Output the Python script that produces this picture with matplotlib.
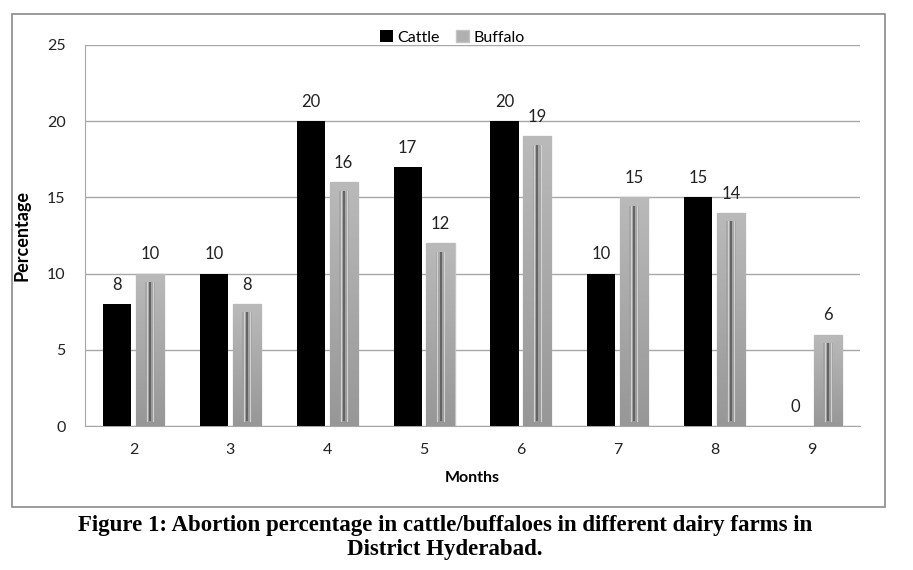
import matplotlib
matplotlib.use("Agg")
import matplotlib.pyplot as plt
from matplotlib.patches import Rectangle
from matplotlib.colors import LinearSegmentedColormap
import numpy as np

months = ["2", "3", "4", "5", "6", "7", "8", "9"]
cattle = [8, 10, 20, 17, 20, 10, 15, 0]
buffalo = [10, 8, 16, 12, 19, 15, 14, 6]

plt.rcParams['font.family'] = ['Lato', 'DejaVu Sans']

W, H = 913, 570
fig = plt.figure(figsize=(W / 100, H / 100), dpi=100)
ax = fig.add_axes([85 / W, 1 - 426 / H, 775 / W, 381 / H])

# outer frame
fig.patches.append(Rectangle((12 / W, 1 - 507 / H), 873 / W, 493 / H,
                             transform=fig.transFigure, fill=False,
                             edgecolor='#8a8a8a', linewidth=1.2))

x = np.arange(len(months))
bw = 0.29
off = 0.17
b1 = ax.bar(x - off, cattle, bw, color='black', label='Cattle', zorder=3)
b2 = ax.bar(x + off, buffalo, bw, color='#b0b0b0', edgecolor='#c4c4c4',
            linewidth=1.0, label='Buffalo', zorder=3)

cmap = LinearSegmentedColormap.from_list('g', ['#979797', '#bababa'])
grad = np.linspace(0, 1, 256).reshape(-1, 1)
for p in b2:
    h = p.get_height()
    if h <= 0:
        continue
    x0 = p.get_x()
    w = p.get_width()
    im = ax.imshow(grad, extent=(x0, x0 + w, 0, h), origin='lower',
                   cmap=cmap, aspect='auto', zorder=3.5)
    im.set_clip_path(p)
    cx = x0 + w / 2
    ax.add_patch(Rectangle((cx - 0.05, 0.35), 0.10, h - 0.9, facecolor='#9c9c9c',
                           edgecolor='none', alpha=0.6, zorder=3.6))
    ax.plot([cx, cx], [0.35, h - 0.55], color='#5e5e5e', lw=1.3, zorder=4,
            solid_capstyle='butt')
    ax.plot([cx - 0.032, cx - 0.032], [0.35, h - 0.55], color='#d2d2d2', lw=0.8, zorder=4)
    ax.plot([cx + 0.032, cx + 0.032], [0.35, h - 0.55], color='#d2d2d2', lw=0.8, zorder=4)
ax.set_xlim(-0.5, len(months) - 0.5)
ax.set_ylim(0, 25)

for bars, vals in ((b1, cattle), (b2, buffalo)):
    for p, v in zip(bars, vals):
        ax.annotate(str(v), (p.get_x() + p.get_width() / 2, v),
                    xytext=(0, 8), textcoords='offset points',
                    ha='center', va='bottom', fontsize=12, color='#222222')

ax.set_yticks(range(0, 26, 5))
ax.set_xticks(x)
ax.set_xticklabels(months)
ax.tick_params(axis='both', length=0, labelsize=11.5, colors='#222222')
ax.tick_params(axis='y', pad=14)
ax.tick_params(axis='x', pad=12)
ax.yaxis.grid(True, color='#a8a8a8', linewidth=1.0, zorder=0)
ax.set_axisbelow(True)
for s in ('top', 'right'):
    ax.spines[s].set_visible(False)
ax.spines['left'].set_color('#a8a8a8')
ax.spines['bottom'].set_color('#a8a8a8')

ax.set_xlabel('Months', fontsize=11.5, fontweight='bold', labelpad=10)
ax.set_ylabel('Percentage', fontsize=13, fontweight='bold', labelpad=12)

leg = ax.legend(loc='center', bbox_to_anchor=(0.474, 1.02), ncol=2, frameon=False,
                fontsize=11.5, handlelength=0.8, handleheight=0.8,
                handletextpad=0.3, columnspacing=1.0)

cap_font = ['Liberation Serif', 'DejaVu Serif']
fig.text(445 / W, 1 - 526 / H,
         'Figure 1: Abortion percentage in cattle/buffaloes in different dairy farms in',
         ha='center', va='center', fontsize=16.5, fontweight='bold', family=cap_font)
fig.text(445 / W, 1 - 550 / H, 'District Hyderabad.',
         ha='center', va='center', fontsize=16.5, fontweight='bold', family=cap_font)

fig.savefig('out.png', dpi=100)
